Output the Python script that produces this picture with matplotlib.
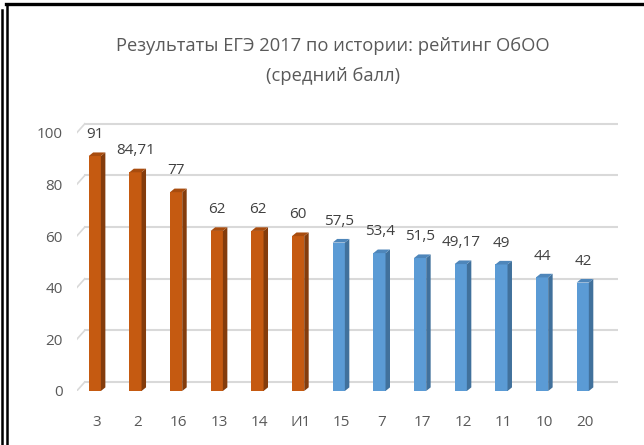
import matplotlib
matplotlib.use('Agg')
import matplotlib.pyplot as plt
from matplotlib.patches import Polygon
from matplotlib.lines import Line2D

plt.rcParams['font.family'] = ['Open Sans', 'DejaVu Sans']

# данные
schools = ['3', '2', '16', '13', '14', 'И1', '15', '7', '17', '12', '11', '10', '20']
scores = [91, 84.71, 77, 62, 62, 60, 57.5, 53.4, 51.5, 49.17, 49, 44, 42]
labels = ['91', '84,71', '77', '62', '62', '60', '57,5', '53,4', '51,5', '49,17', '49', '44', '42']
top_group = 6  # первые 6 - оранжевые

orange = ('#C55A11', '#843C0C', '#A84C0E')
blue = ('#5B9BD5', '#41719C', '#4E86BA')

fig = plt.figure(figsize=(6.44, 4.45), dpi=100)
ax = fig.add_axes([76.7 / 644, 54 / 445, 540.8 / 644, 284 / 445])
ax.set_xlim(-0.5, 12.8)
ax.set_ylim(0, 110)

# глубина "3D"
gx, gy = 0.2, 3.5     # стенка с сеткой
bw, bx, by = 0.3, 0.11, 1.4  # ширина столбца и глубина

grid_c = '#D9D9D9'
for v in range(0, 101, 20):
    ax.add_line(Line2D([-0.5 + gx, 12.8], [v + gy, v + gy], color=grid_c, lw=1.5, zorder=1))
    ax.add_line(Line2D([-0.5, -0.5 + gx], [v, v + gy], color=grid_c, lw=1.2, zorder=1))

for i, (v, lab) in enumerate(zip(scores, labels)):
    front, side, top = orange if i < top_group else blue
    x0 = i - bx / 2 - bw / 2
    x1 = x0 + bw
    ax.add_patch(Polygon([(x0, 0), (x1, 0), (x1, v), (x0, v)], closed=True,
                         facecolor=front, edgecolor='none', zorder=3))
    ax.add_patch(Polygon([(x1, 0), (x1 + bx, by), (x1 + bx, v + by), (x1, v)], closed=True,
                         facecolor=side, edgecolor='none', zorder=3))
    ax.add_patch(Polygon([(x0, v), (x1, v), (x1 + bx, v + by), (x0 + bx, v + by)], closed=True,
                         facecolor=top, edgecolor='none', zorder=3))
    ax.annotate(lab, (i - 0.05, v), xytext=(0, 10), textcoords='offset points',
                ha='center', va='bottom', fontsize=11, color='#404040')

ax.set_xticks(range(len(schools)))
ax.set_xticklabels(schools)
ax.set_yticks(range(0, 101, 20))
ax.tick_params(axis='both', length=0, labelsize=11, labelcolor='#595959')
ax.tick_params(axis='y', pad=10)
ax.tick_params(axis='x', pad=17)
for s in ax.spines.values():
    s.set_visible(False)
ax.patch.set_alpha(0)

fig.text(333 / 644, 1 - 46 / 445, 'Результаты ЕГЭ 2017 по истории: рейтинг ОбОО',
         ha='center', va='center', fontsize=13.2, color='#595959')
fig.text(333 / 644, 1 - 76 / 445, '(средний балл)',
         ha='center', va='center', fontsize=13.2, color='#595959')

# рамка
fig.add_artist(Line2D([6 / 644, 1], [1 - 4 / 445, 1 - 4 / 445], color='black', lw=2.4))
fig.add_artist(Line2D([2 / 644, 2 / 644], [0, 1 - 10 / 445], color='black', lw=1.8))
fig.add_artist(Line2D([7 / 644, 7 / 644], [0, 1 - 4 / 445], color='black', lw=1.8))

fig.savefig('out.png', dpi=100)
